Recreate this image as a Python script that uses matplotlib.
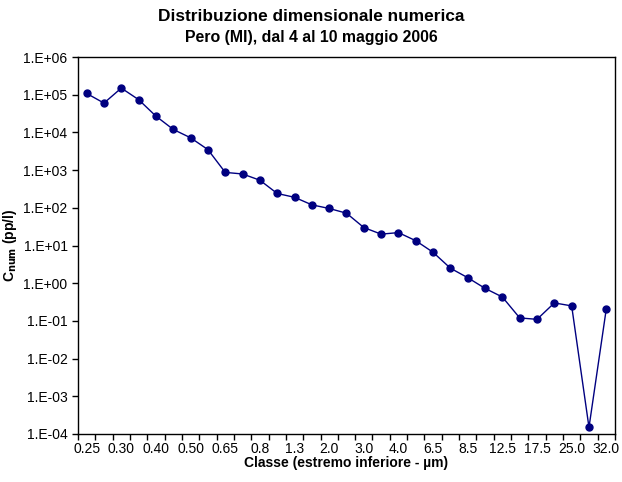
import numpy as np
import matplotlib
matplotlib.use("Agg")
import matplotlib.pyplot as plt
from matplotlib.ticker import FixedLocator, FuncFormatter

plt.rcParams['font.family'] = ['Liberation Sans', 'DejaVu Sans']

# lower edge of each size class (um)
classes = ["0.25", "0.28", "0.30", "0.35", "0.40", "0.45", "0.50", "0.58",
           "0.65", "0.70", "0.8", "1.0", "1.3", "1.6", "2.0", "2.5", "3.0",
           "3.5", "4.0", "5.0", "6.5", "7.5", "8.5", "10.0", "12.5", "15.0",
           "17.5", "20.0", "25.0", "30.0", "32.0"]
# number concentration (pp/l)
c_num = [1.08e5, 6.0e4, 1.5e5, 7.4e4, 2.7e4, 1.2e4, 7.2e3, 3.5e3,
         8.7e2, 7.9e2, 5.4e2, 2.4e2, 1.9e2, 1.2e2, 96, 72, 30,
         20, 22, 13.4, 6.6, 2.5, 1.4, 0.73, 0.43, 0.12,
         0.11, 0.30, 0.25, 1.5e-4, 0.21]
y_ticks = [1e-4, 1e-3, 1e-2, 1e-1, 1e0, 1e1, 1e2, 1e3, 1e4, 1e5, 1e6]

x = np.arange(len(classes))

fig = plt.figure(figsize=(6.22, 4.82), dpi=100)
ax = fig.add_axes([0.1254, 0.0996, 0.8633, 0.7821])

ax.plot(x, c_num, color='#000080', linewidth=1, marker='o', markersize=5,
        markerfacecolor='#000080', markeredgecolor='#000080')

ax.set_yscale('log')
ax.set_ylim(1e-4, 1e6)
ax.yaxis.set_major_locator(FixedLocator(y_ticks))
ax.yaxis.set_minor_locator(FixedLocator([]))
ax.yaxis.set_major_formatter(FuncFormatter(
    lambda v, p: "1.E{:+03d}".format(int(round(np.log10(v))))))

ax.set_xlim(-0.5, len(classes) - 0.5)
# tick marks on class boundaries, labels on every other class
ax.set_xticks(np.arange(len(classes) + 1) - 0.5)
ax.set_xticklabels([])
ax.set_xticks(x[::2], minor=True)
ax.set_xticklabels(classes[::2], minor=True)
ax.tick_params(axis='x', which='major', direction='out', length=4, width=1)
ax.tick_params(axis='x', which='minor', length=0, pad=6)
ax.tick_params(axis='y', direction='out', length=4, width=1)
ax.tick_params(labelsize=10)

for s in ax.spines.values():
    s.set_linewidth(1)

ax.set_xlabel("Classe (estremo inferiore - µm)", fontsize=10,
              fontweight='bold', labelpad=0)
ax.set_ylabel(r"C$_{\mathbf{num}}$ (pp/l)", fontsize=10, fontweight='bold',
              labelpad=3)

fig.text(0.5, 0.965, "Distribuzione dimensionale numerica", ha='center',
         va='center', fontsize=12.4, fontweight='bold')
fig.text(0.5, 0.923, "Pero (MI), dal 4 al 10 maggio 2006", ha='center',
         va='center', fontsize=11.4, fontweight='bold')

fig.savefig("out.png", dpi=100)
